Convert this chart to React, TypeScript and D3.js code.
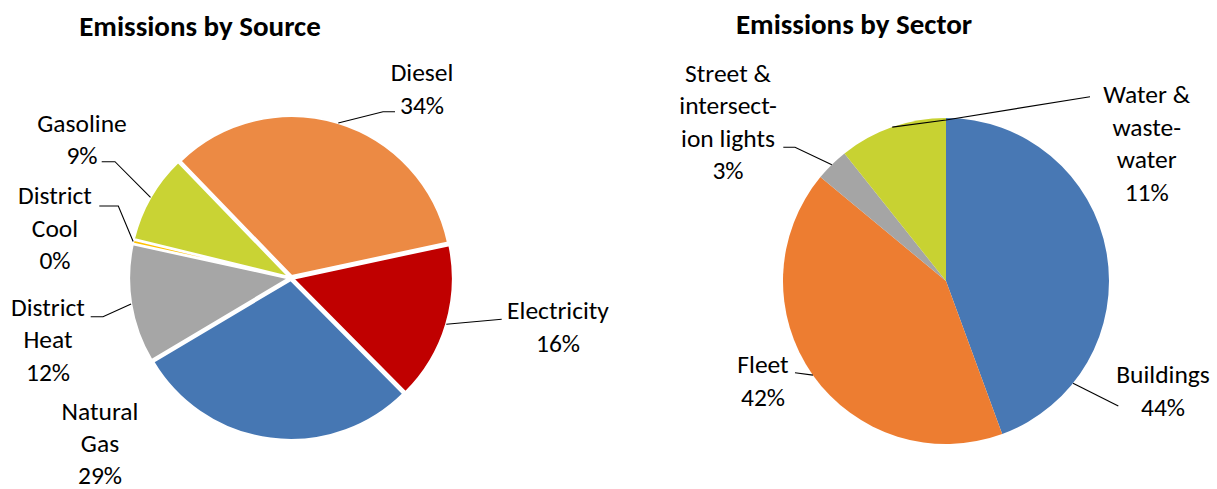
import React from "react";
import * as d3 from "d3";

// ---- Emissions by Source ----
const sourceNames = ["Diesel", "Electricity", "Natural Gas", "District Heat", "District Cool", "Gasoline"];
const sourceValues = [34, 16, 29, 12, 0.4, 9];
const sourceColors = ["#EC8A44", "#C00000", "#4677B3", "#A6A6A6", "#FFC000", "#C9D334"];

// ---- Emissions by Sector ----
const sectorNames = ["Buildings", "Fleet", "Street & intersection lights", "Water & wastewater"];
const sectorValues = [44.4, 41.6, 3.3, 10.7];
const sectorColors = ["#4878B4", "#ED7D31", "#A5A5A5", "#C8D232"];

const FONT = "Carlito, Calibri, Lato, 'Open Sans', sans-serif";
const LABEL_SIZE = 25.5;
const TITLE_SIZE = 29;
const LINE_H = 32.5;

type LabelLayout = {
  lines: string[];
  x: number;
  y: number;
  anchorAngle?: number; // degrees clockwise from 12 o'clock; defaults to slice middle
  path?: [number, number][]; // leader waypoints after the slice anchor
};

const sourceLabels: Record<string, LabelLayout> = {
  Diesel: { lines: ["Diesel"], x: 422, y: 81, path: [[383, 111.7], [395, 111.7]] },
  Electricity: { lines: ["Electricity"], x: 558, y: 319.3, path: [[501.7, 319.3]] },
  "Natural Gas": { lines: ["Natural", "Gas"], x: 100, y: 419.5, lineH: 32 } as LabelLayout,
  "District Heat": { lines: ["District", "Heat"], x: 48, y: 315.7, path: [[103, 316.7], [90.7, 316.7]] },
  "District Cool": { lines: ["District", "Cool"], x: 55, y: 204, path: [[118.3, 206], [99.3, 206]] },
  Gasoline: { lines: ["Gasoline"], x: 82, y: 131.7, path: [[115, 161.7], [101.7, 161.7]] },
};

const sectorLabels: Record<string, LabelLayout> = {
  Buildings: { lines: ["Buildings"], x: 1163, y: 383.3, anchorAngle: 128.8, path: [[1118.3, 406]] },
  Fleet: { lines: ["Fleet"], x: 763, y: 373, path: [[795, 372.7]] },
  "Street & intersection lights": {
    lines: ["Street &", "intersect-", "ion lights"],
    x: 728,
    y: 81.7,
    path: [[795, 147.3], [783.3, 147.3]],
  },
  "Water & wastewater": {
    lines: ["Water &", "waste-", "water"],
    x: 1146.7,
    y: 103.3,
    path: [[946, 120], [1090, 96.7]],
  },
};

type PieProps = {
  names: string[];
  values: number[];
  colors: string[];
  labels: Record<string, LabelLayout>;
  cx: number;
  cy: number;
  r: number;
  startDeg: number;
  explode: number;
  gap: number;
  title: string;
  titleX: number;
  titleY: number;
};

function PieChart(p: PieProps) {
  const rad = Math.PI / 180;
  const total = d3.sum(p.values);
  const pie = d3
    .pie<number>()
    .sort(null)
    .value((d) => d)
    .startAngle(p.startDeg * rad)
    .endAngle((p.startDeg + 360) * rad);
  const arcs = pie(p.values);
  const arc = d3.arc<d3.PieArcDatum<number>>().innerRadius(0).outerRadius(p.r);

  const polar = (angle: number, radius: number): [number, number] => [
    Math.sin(angle) * radius,
    -Math.cos(angle) * radius,
  ];

  return (
    <g>
      <text
        x={p.titleX}
        y={p.titleY}
        textAnchor="middle"
        fontFamily={FONT}
        fontWeight="bold"
        fontSize={TITLE_SIZE}
        fill="#000"
      >
        {p.title}
      </text>
      <g transform={`translate(${p.cx},${p.cy})`}>
        {arcs.map((a, i) => {
          const mid = (a.startAngle + a.endAngle) / 2;
          const [dx, dy] = polar(mid, p.explode);
          return (
            <path
              key={p.names[i]}
              d={arc(a) || ""}
              transform={`translate(${dx},${dy})`}
              fill={p.colors[i]}
              stroke={p.gap > 0 ? "#fff" : "none"}
              strokeWidth={p.gap}
              strokeLinejoin="round"
            />
          );
        })}
      </g>
      {arcs.map((a, i) => {
        const name = p.names[i];
        const lay = p.labels[name] as LabelLayout & { lineH?: number };
        if (!lay) return null;
        const mid = (a.startAngle + a.endAngle) / 2;
        const ang = lay.anchorAngle !== undefined ? lay.anchorAngle * rad : mid;
        const [ex, ey] = polar(mid, p.explode);
        const [ax, ay] = polar(ang, p.r);
        const start: [number, number] = [p.cx + ax + ex, p.cy + ay + ey];
        const pct = `${Math.round((p.values[i] / total) * 100)}%`;
        const lines = [...lay.lines, pct];
        const lh = lay.lineH ?? LINE_H;
        return (
          <g key={name}>
            {lay.path && (
              <path
                d={d3.line()([start, ...lay.path]) || ""}
                fill="none"
                stroke="#000"
                strokeWidth={1.1}
              />
            )}
            <text
              textAnchor="middle"
              fontFamily={FONT}
              fontSize={LABEL_SIZE}
              fill="#000"
            >
              {lines.map((l, k) => (
                <tspan key={k} x={lay.x} y={lay.y + k * lh}>
                  {l}
                </tspan>
              ))}
            </text>
          </g>
        );
      })}
    </g>
  );
}

export default function App() {
  return (
    <div style={{ position: "absolute", left: 0, top: 0 }}>
      <svg width={1217} height={489} style={{ display: "block", background: "#fff" }}>
        <rect width={1217} height={489} fill="#fff" />
        <PieChart
          names={sourceNames}
          values={sourceValues}
          colors={sourceColors}
          labels={sourceLabels}
          cx={291}
          cy={278}
          r={160}
          startDeg={-44}
          explode={2}
          gap={2.2}
          title="Emissions by Source"
          titleX={200}
          titleY={36}
        />
        <PieChart
          names={sectorNames}
          values={sectorValues}
          colors={sectorColors}
          labels={sectorLabels}
          cx={946}
          cy={281}
          r={163}
          startDeg={0}
          explode={0}
          gap={0}
          title="Emissions by Sector"
          titleX={854}
          titleY={34}
        />
      </svg>
    </div>
  );
}
